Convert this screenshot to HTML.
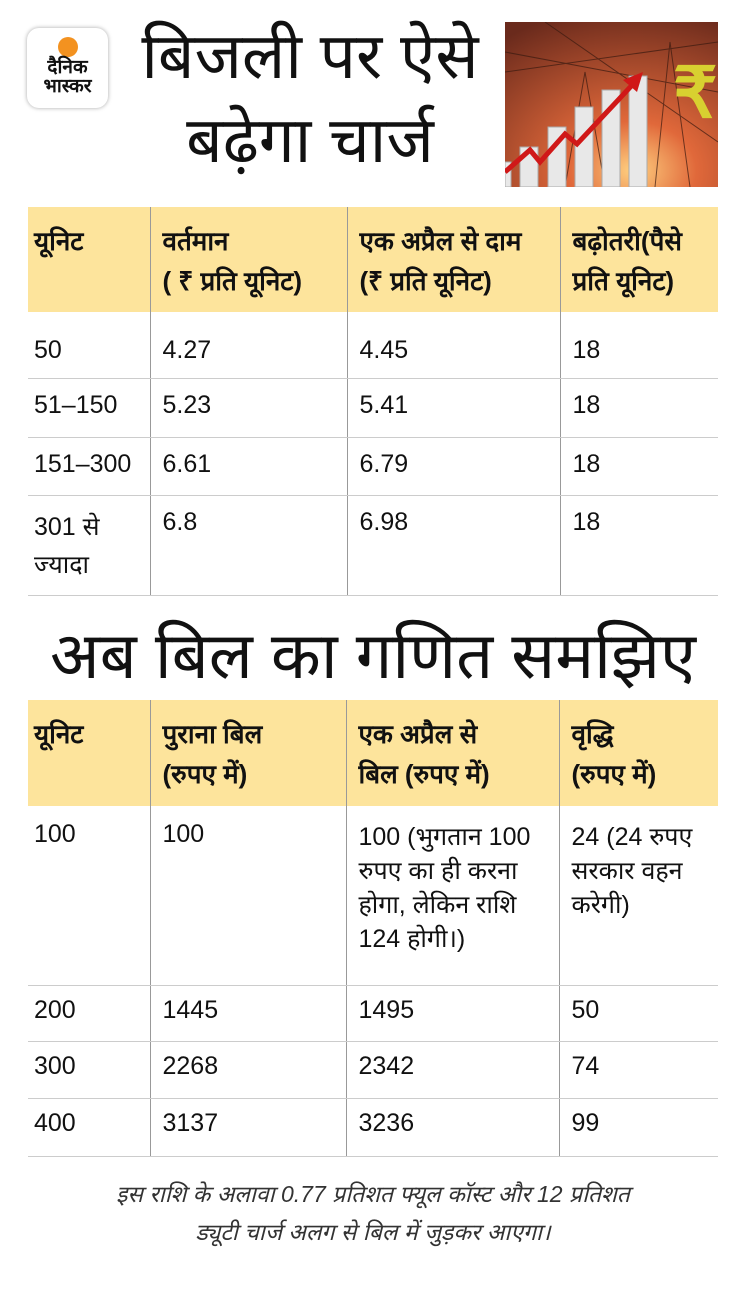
<!DOCTYPE html>
<html><head><meta charset="utf-8"><style>
*{margin:0;padding:0;box-sizing:border-box}
body{width:746px;height:1291px;background:#fff;font-family:"Liberation Sans",sans-serif;color:#111;position:relative;overflow:hidden}
.abs{position:absolute}
.logo{left:27px;top:28px;width:81px;height:80px;border-radius:12px;background:#fff;box-shadow:0 0 4px rgba(0,0,0,.35);text-align:center}
.logo .sun{width:20px;height:20px;border-radius:50%;background:#f39220;margin:9px auto 1px}
.logo div.t{font-weight:bold;font-size:19px;line-height:19px}
.title{font-size:64px;line-height:80px;text-align:center;white-space:nowrap}
table{position:absolute;left:28px;width:690px;border-collapse:collapse;font-size:25px}
td{vertical-align:top;padding:10px 12px 0 12px;border-left:1px solid #999;border-bottom:1px solid #ccc}
td:first-child{border-left:none;padding-left:6px}
thead td{background:#fde49c;font-weight:bold;border-bottom:none;line-height:40px;padding-top:14px;font-size:26px}
.foot{left:0;width:746px;top:1175px;text-align:center;font-style:italic;font-size:23px;line-height:38px;color:#333}
</style></head><body>
<div class="abs logo"><div class="sun"></div><div class="t">दैनिक</div><div class="t">भास्कर</div></div>
<div class="abs title" style="left:110px;top:16px;width:400px">बिजली पर ऐसे</div>
<div class="abs title" style="left:110px;top:100px;width:400px">बढ़ेगा चार्ज</div>
<svg class="abs" style="left:505px;top:22px" width="213" height="165" viewBox="0 0 213 165">
<defs><radialGradient id="g" cx="0.6" cy="0.9" r="1"><stop offset="0" stop-color="#ffd080"/><stop offset="0.3" stop-color="#e0683a"/><stop offset="1" stop-color="#6a2a1c"/></radialGradient></defs>
<rect width="213" height="165" fill="url(#g)"/>
<g stroke="#3a1a10" stroke-width="1" fill="none" opacity=".7"><path d="M60 165 L80 50 L100 165 M70 100 L92 100 M150 165 L165 20 L185 165"/><path d="M0 30 L213 70 M0 50 L213 20 M40 0 L213 120"/></g>
<g fill="#e8e8e8" stroke="#aaa"><rect x="0" y="140" width="6" height="25"/><rect x="15" y="125" width="18" height="40"/><rect x="43" y="105" width="18" height="60"/><rect x="70" y="85" width="18" height="80"/><rect x="97" y="68" width="18" height="97"/><rect x="124" y="54" width="18" height="111"/></g>
<path d="M0 150 L25 128 L35 140 L60 112 L72 122 L130 60" stroke="#d01818" stroke-width="5" fill="none"/>
<polygon points="138,50 118,58 132,70" fill="#d01818"/>
<text x="168" y="95" font-size="70" font-weight="bold" fill="#d8d030" font-family="sans-serif">₹</text>
</svg>
<table style="top:207px">
<colgroup><col style="width:122px"><col style="width:197px"><col style="width:213px"><col></colgroup>
<thead><tr style="height:105px"><td>यूनिट</td><td>वर्तमान<br>( ₹ प्रति यूनिट)</td><td>एक अप्रैल से दाम<br>(₹ प्रति यूनिट)</td><td>बढ़ोतरी(पैसे<br>प्रति यूनिट)</td></tr></thead>
<tr style="height:66px"><td style="padding-top:24px">50</td><td style="padding-top:24px">4.27</td><td style="padding-top:24px">4.45</td><td style="padding-top:24px">18</td></tr>
<tr style="height:59px"><td style="padding-top:12px">51–150</td><td style="padding-top:12px">5.23</td><td style="padding-top:12px">5.41</td><td style="padding-top:12px">18</td></tr>
<tr style="height:58px"><td style="padding-top:12px">151–300</td><td style="padding-top:12px">6.61</td><td style="padding-top:12px">6.79</td><td style="padding-top:12px">18</td></tr>
<tr style="height:100px"><td style="padding-top:12px;line-height:38px">301 से<br>ज्यादा</td><td style="padding-top:12px">6.8</td><td style="padding-top:12px">6.98</td><td style="padding-top:12px">18</td></tr>
</table>
<div class="abs title" style="left:0;top:616px;width:746px;font-size:65px">अब बिल का गणित समझिए</div>
<table style="top:700px">
<colgroup><col style="width:122px"><col style="width:196px"><col style="width:213px"><col></colgroup>
<thead><tr style="height:106px"><td>यूनिट</td><td>पुराना बिल<br>(रुपए में)</td><td>एक अप्रैल से<br>बिल (रुपए में)</td><td>वृद्धि<br>(रुपए में)</td></tr></thead>
<tr style="height:179px"><td style="padding-top:14px">100</td><td style="padding-top:14px">100</td><td style="padding-top:14px;line-height:34px">100 (भुगतान 100 रुपए का ही करना होगा, लेकिन राशि 124 होगी।)</td><td style="padding-top:14px;line-height:34px">24 (24 रुपए सरकार वहन करेगी)</td></tr>
<tr style="height:56px"><td style="padding-top:10px">200</td><td style="padding-top:10px">1445</td><td style="padding-top:10px">1495</td><td style="padding-top:10px">50</td></tr>
<tr style="height:57px"><td style="padding-top:10px">300</td><td style="padding-top:10px">2268</td><td style="padding-top:10px">2342</td><td style="padding-top:10px">74</td></tr>
<tr style="height:58px"><td style="padding-top:10px">400</td><td style="padding-top:10px">3137</td><td style="padding-top:10px">3236</td><td style="padding-top:10px">99</td></tr>
</table>
<div class="abs foot">इस राशि के अलावा 0.77 प्रतिशत फ्यूल कॉस्ट और 12 प्रतिशत<br>ड्यूटी चार्ज अलग से बिल में जुड़कर आएगा।</div>
</body></html>
